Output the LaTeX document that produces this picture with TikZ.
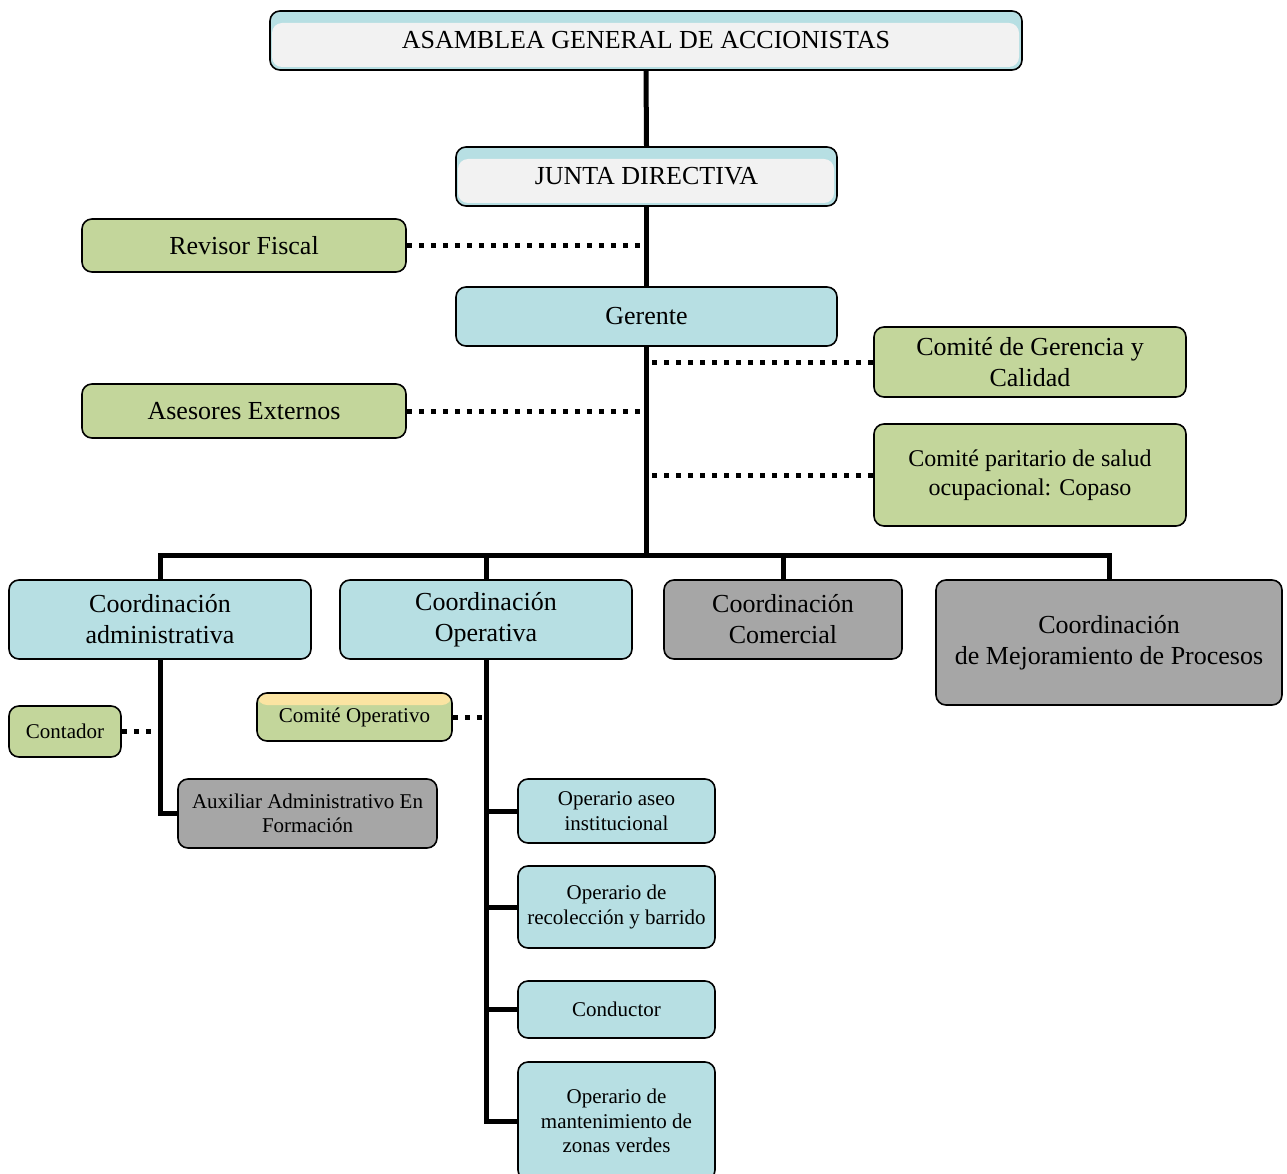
\documentclass[tikz,border=0pt]{standalone}
\usepackage{fontspec}
\setmainfont{Liberation Serif}[Ligatures=TeX]
\newfontfamily\tms{Liberation Serif}
\definecolor{lblue}{RGB}{183,223,227}
\definecolor{lgreen}{RGB}{195,214,155}
\definecolor{mgray}{RGB}{166,166,166}
\definecolor{pgray}{RGB}{242,242,242}
\definecolor{lyellow}{RGB}{251,228,162}
\tikzset{
  box/.style={draw=black, line width=1.6pt, rounded corners=10pt, inner sep=0pt, align=center, text=black},
  bluebox/.style={box, fill=lblue},
  greenbox/.style={box, fill=lgreen},
  graybox/.style={box, fill=mgray},
  headbox/.style={box, fill=lblue, path picture={\fill[pgray] ([yshift=-12pt,xshift=2pt]path picture bounding box.north west) rectangle ([yshift=3pt,xshift=-3pt]path picture bounding box.south east);}},
  yelbox/.style={box, fill=lgreen, path picture={\fill[lyellow] (path picture bounding box.north west) rectangle ([yshift=-12pt]path picture bounding box.north east);}},
  big/.style={font=\tms\fontsize{26}{31}\selectfont},
  mid/.style={font=\tms\fontsize{24}{29}\selectfont},
  small/.style={font=\tms\fontsize{21}{24.5}\selectfont},
  spine/.style={line width=5pt, draw=black},
  dots/.style={line width=5pt, draw=black, dash pattern=on 5pt off 7pt},
}
\begin{document}
\begin{tikzpicture}[x=1pt, y=-1pt]
\useasboundingbox[fill=white] (0,0) rectangle (1287,1174);

\coordinate (busL) at (160,555);
\coordinate (busR) at (1109,555);
\coordinate (busM) at (646.5,555);

\node[headbox, big, minimum width=752pt, minimum height=59pt] (asam) at (646,40.5) {ASAMBLEA GENERAL DE ACCIONISTAS};
\node[headbox, big, minimum width=381pt, minimum height=59pt] (junta) at (646.5,176.5) {JUNTA DIRECTIVA};
\node[bluebox, big, minimum width=381pt, minimum height=59pt] (ger) at (646.5,316.5) {Gerente};
\node[greenbox, big, minimum width=324pt, minimum height=53pt] (rev) at (244,245.5) {Revisor Fiscal};
\node[greenbox, big, minimum width=324pt, minimum height=54pt] (ase) at (244,411) {Asesores Externos};
\node[greenbox, big, minimum width=312pt, minimum height=70pt] (cgc) at (1030,362) {Comité de Gerencia y\\Calidad};
\node[greenbox, mid, minimum width=312pt, minimum height=102pt] (cps) at (1030,475) {Comité paritario de salud\\ocupacional: Copaso};

\node[bluebox, big, minimum width=302pt, minimum height=79pt] (ca) at (160,619.5) {Coordinación\\administrativa};
\node[bluebox, big, minimum width=292pt, minimum height=79pt] (co) at (486,619.5) {Coordinación\\Operativa};
\node[graybox, big, minimum width=238pt, minimum height=79pt] (cc) at (783,619.5) {Coordinación\\Comercial};
\node[graybox, big, minimum width=346pt, minimum height=125pt] (cm) at (1109,642.5) {Coordinación\\de Mejoramiento de Procesos};

\node[greenbox, small, minimum width=112pt, minimum height=51pt] (cont) at (65,731.5) {Contador};
\node[graybox, small, minimum width=259pt, minimum height=69pt] (aux) at (307.5,813.5) {Auxiliar Administrativo En\\Formación};
\node[yelbox, small, minimum width=195pt, minimum height=48pt] (cop) at (354.5,717) {Comité Operativo};

\node[bluebox, small, minimum width=197pt, minimum height=64pt] (aseo) at (616.5,811) {Operario aseo\\institucional};
\node[bluebox, small, minimum width=197pt, minimum height=82pt] (rec) at (616.5,907) {Operario de\\recolección y barrido};
\node[bluebox, small, minimum width=197pt, minimum height=57pt] (cond) at (616.5,1009.5) {Conductor};
\node[bluebox, small, minimum width=197pt, minimum height=118pt] (mant) at (616.5,1121) {Operario de\\mantenimiento de\\zonas verdes};

% spine
\draw[spine] (asam.south) -- (junta.north);
\draw[spine] (junta.south) -- (ger.north);
\draw[spine] (ger.south) -- (busM);
\draw[spine, line cap=rect] (busL) -- (busR);
\draw[spine] (busL) -- (ca.north);
\draw[spine] (co.north |- busM) -- (co.north);
\draw[spine] (cc.north |- busM) -- (cc.north);
\draw[spine] (busR) -- (cm.north);

% admin branch
\draw[spine] (ca.south) -- (ca.south |- aux.west) -- (aux.west);
% operativa branch
\draw[spine] (co.south) -- (co.south |- mant.west) -- (mant.west);
\draw[spine] (co.south |- aseo.west) -- (aseo.west);
\draw[spine] (co.south |- rec.west) -- (rec.west);
\draw[spine] (co.south |- cond.west) -- (cond.west);

% dotted
\draw[dots] (rev.east) -- (rev.east -| junta.south);
\draw[dots] (ase.east) -- (ase.east -| ger.south);
\draw[dots] (cgc.west) -- (cgc.west -| ger.south);
\draw[dots] (cps.west) -- (cps.west -| ger.south);
\draw[dots] (cont.east) -- (cont.east -| ca.south);
\draw[dots] (cop.east) -- (cop.east -| co.south);
\end{tikzpicture}
\end{document}
